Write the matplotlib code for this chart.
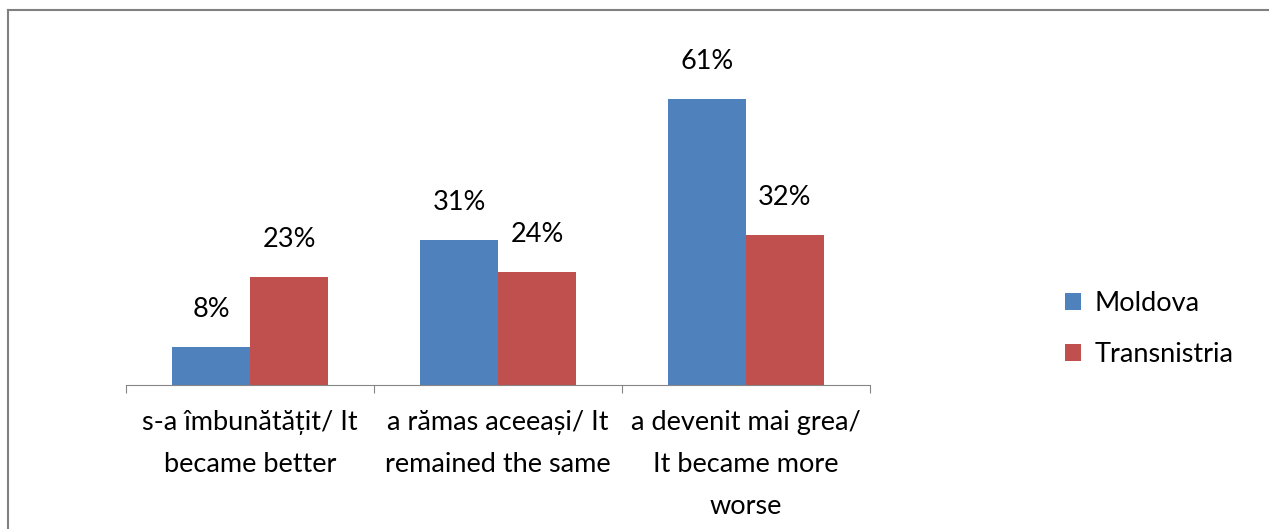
import numpy as np
import matplotlib.pyplot as plt
import matplotlib.lines as mlines

categories = ["s-a îmbunătățit/ It\nbecame better",
              "a rămas aceeași/ It\nremained the same",
              "a devenit mai grea/\nIt became more\nworse"]
moldova = [8, 31, 61]
transnistria = [23, 24, 32]
series_names = ["Moldova", "Transnistria"]

plt.rcParams['font.family'] = ['Lato', 'DejaVu Sans']

fig = plt.figure(figsize=(12.69, 5.29), dpi=100)
ax = fig.add_axes([0.0993, 0.2722, 0.5863, 0.6206])

x = np.arange(len(categories))
w = 0.3145
b1 = ax.bar(x - w / 2, moldova, w, color='#4F81BD', label=series_names[0])
b2 = ax.bar(x + w / 2, transnistria, w, color='#C0504D', label=series_names[1])

# value labels
for bars, vals in [(b1, moldova), (b2, transnistria)]:
    for r, v in zip(bars, vals):
        ax.annotate(f"{v}%", (r.get_x() + r.get_width() / 2, v),
                    xytext=(0, 27), textcoords='offset points',
                    ha='center', va='center', fontsize=19.5)

ax.set_xlim(-0.5, 2.5)
ax.set_ylim(0, 70)
ax.set_yticks([])
for s in ['top', 'left', 'right']:
    ax.spines[s].set_visible(False)
ax.spines['bottom'].set_color('#868686')

ax.set_xticks([-0.5, 0.5, 1.5, 2.5])
ax.set_xticklabels([])
ax.tick_params(axis='x', which='major', length=6, color='#868686')
ax.set_xticks(x, minor=True)
ax.set_xticklabels(categories, minor=True, fontsize=19.5, linespacing=1.85)
ax.tick_params(axis='x', which='minor', length=0, pad=18)

ax.legend(loc='center left', bbox_to_anchor=(1.229, 0.17), frameon=False,
          fontsize=19.5, handlelength=0.6, handleheight=0.6,
          labelspacing=0.95, handletextpad=0.5)

# outer border (top and left edges visible)
fig.add_artist(mlines.Line2D([8 / 1269, 1.0], [1 - 10 / 529, 1 - 10 / 529],
                             color='#808080', lw=1.5, transform=fig.transFigure))
fig.add_artist(mlines.Line2D([8 / 1269, 8 / 1269], [0, 1 - 10 / 529],
                             color='#808080', lw=1.5, transform=fig.transFigure))

fig.savefig('out.png', dpi=100)
